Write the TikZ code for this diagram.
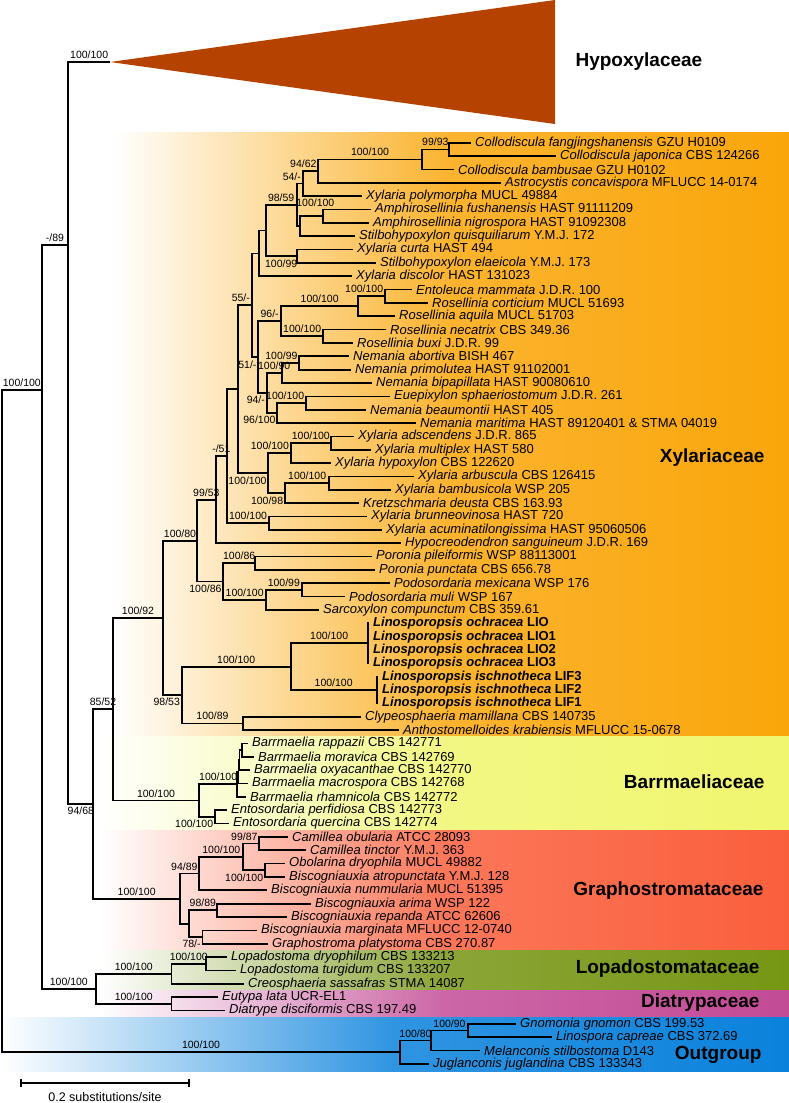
\documentclass[tikz,border=0pt]{standalone}
\usepackage{fontspec}
\setmainfont{Liberation Sans}
\usepackage{tikz}
\usetikzlibrary{calc}
\definecolor{hypc}{RGB}{182,66,0}
\definecolor{xylc}{RGB}{250,166,10}
\definecolor{barc}{RGB}{240,246,110}
\definecolor{grac}{RGB}{250,95,60}
\definecolor{lopc}{RGB}{118,150,20}
\definecolor{diac}{RGB}{195,75,150}
\definecolor{outc}{RGB}{10,130,220}

\begin{document}
\begin{tikzpicture}[
    x=1pt, y=-1pt,
    br/.style={line width=1.7pt},
    tax/.style={anchor=west, font=\fontsize{13}{15}\selectfont, inner xsep=4pt, inner ysep=0pt},
    bs/.style={font=\fontsize{10.5}{12}\selectfont, inner xsep=1pt, inner ysep=2.5pt},
    bsup/.style={bs, pos=.75, above},
    bsdn/.style={bs, pos=.75, below},
    bsupl/.style={bs, pos=1, above left},
    bsdnl/.style={bs, pos=1, below left},
    fam/.style={anchor=east, font=\fontsize{19}{22}\selectfont\bfseries},
    band/.style={left color=white}
]
    \useasboundingbox (0,0) rectangle (789,1103);

    % family bands
    \shade[band, right color=xylc, middle color=xylc!85!white] (113,132) rectangle (789,736.8);
    \shade[band, right color=barc, middle color=barc!85!white] (100,736.8) rectangle (789,830.2);
    \shade[band, right color=grac, middle color=grac!85!white] (100,830.2) rectangle (789,950.4);
    \shade[band, right color=lopc, middle color=lopc!85!white] (100,950.4) rectangle (789,990.4);
    \shade[band, right color=diac, middle color=diac!85!white] (100,990.4) rectangle (789,1017.1);
    \shade[band, right color=outc, middle color=outc!85!white] (0,1017.1) rectangle (789,1071);

    % collapsed Hypoxylaceae
    \coordinate (hyp) at (110,62);
    \fill[hypc] (hyp) -- (555,0) -- (555,124) -- cycle;

    % taxa
    \node[tax] (cfan) at (471,142.7) {\textit{Collodiscula fangjingshanensis} GZU H0109};
    \node[tax] (cjap) at (556,156.05) {\textit{Collodiscula japonica} CBS 124266};
    \node[tax] (cbam) at (454,169.4) {\textit{Collodiscula bambusae} GZU H0102};
    \node[tax] (acon) at (501,182.75) {\textit{Astrocystis concavispora} MFLUCC 14-0174};
    \node[tax] (xpol) at (362,196.1) {\textit{Xylaria polymorpha} MUCL 49884};
    \node[tax] (afus) at (371,209.45) {\textit{Amphirosellinia fushanensis} HAST 91111209};
    \node[tax] (anig) at (369,222.8) {\textit{Amphirosellinia nigrospora} HAST 91092308};
    \node[tax] (squi) at (355,236.15) {\textit{Stilbohypoxylon quisquiliarum} Y.M.J. 172};
    \node[tax] (xcur) at (353,249.5) {\textit{Xylaria curta} HAST 494};
    \node[tax] (sela) at (376,262.85) {\textit{Stilbohypoxylon elaeicola} Y.M.J. 173};
    \node[tax] (xdis) at (352,276.2) {\textit{Xylaria discolor} HAST 131023};
    \node[tax] (emam) at (412,289.55) {\textit{Entoleuca mammata} J.D.R. 100};
    \node[tax] (rcor) at (428,302.9) {\textit{Rosellinia corticium} MUCL 51693};
    \node[tax] (raqu) at (395,316.25) {\textit{Rosellinia aquila} MUCL 51703};
    \node[tax] (rnec) at (386,329.6) {\textit{Rosellinia necatrix} CBS 349.36};
    \node[tax] (rbux) at (353,342.95) {\textit{Rosellinia buxi} J.D.R. 99};
    \node[tax] (nabo) at (349,356.3) {\textit{Nemania abortiva} BISH 467};
    \node[tax] (npri) at (351,369.65) {\textit{Nemania primolutea} HAST 91102001};
    \node[tax] (nbip) at (372,383) {\textit{Nemania bipapillata} HAST 90080610};
    \node[tax] (esph) at (390,396.35) {\textit{Euepixylon sphaeriostomum} J.D.R. 261};
    \node[tax] (nbea) at (366,409.7) {\textit{Nemania beaumontii} HAST 405};
    \node[tax] (nmar) at (416,423.05) {\textit{Nemania maritima} HAST 89120401 \& STMA 04019};
    \node[tax] (xads) at (354,436.4) {\textit{Xylaria adscendens} J.D.R. 865};
    \node[tax] (xmul) at (371,449.75) {\textit{Xylaria multiplex} HAST 580};
    \node[tax] (xhyp) at (331,463.1) {\textit{Xylaria hypoxylon} CBS 122620};
    \node[tax] (xarb) at (414,476.45) {\textit{Xylaria arbuscula} CBS 126415};
    \node[tax] (xbam) at (391,489.8) {\textit{Xylaria bambusicola} WSP 205};
    \node[tax] (kdeu) at (359,503.15) {\textit{Kretzschmaria deusta} CBS 163.93};
    \node[tax] (xbru) at (367,516.5) {\textit{Xylaria brunneovinosa} HAST 720};
    \node[tax] (xacu) at (382,529.85) {\textit{Xylaria acuminatilongissima} HAST 95060506};
    \node[tax] (hsan) at (401,543.2) {\textit{Hypocreodendron sanguineum} J.D.R. 169};
    \node[tax] (ppil) at (372,556.55) {\textit{Poronia pileiformis} WSP 88113001};
    \node[tax] (ppun) at (375,569.9) {\textit{Poronia punctata} CBS 656.78};
    \node[tax] (pmex) at (390,583.25) {\textit{Podosordaria mexicana} WSP 176};
    \node[tax] (pmul) at (345,596.6) {\textit{Podosordaria muli} WSP 167};
    \node[tax] (scom) at (319,609.95) {\textit{Sarcoxylon compunctum} CBS 359.61};
    \node[tax] (lio) at (369,623.3) {\textbf{\textit{Linosporopsis ochracea} LIO}};
    \node[tax] (lioa) at (369,636.65) {\textbf{\textit{Linosporopsis ochracea} LIO1}};
    \node[tax] (liob) at (369,650) {\textbf{\textit{Linosporopsis ochracea} LIO2}};
    \node[tax] (lioc) at (369,663.35) {\textbf{\textit{Linosporopsis ochracea} LIO3}};
    \node[tax] (lifc) at (378,676.7) {\textbf{\textit{Linosporopsis ischnotheca} LIF3}};
    \node[tax] (lifb) at (378,690.05) {\textbf{\textit{Linosporopsis ischnotheca} LIF2}};
    \node[tax] (lifa) at (378,703.4) {\textbf{\textit{Linosporopsis ischnotheca} LIF1}};
    \node[tax] (cmam) at (361,716.75) {\textit{Clypeosphaeria mamillana} CBS 140735};
    \node[tax] (akra) at (399,730.1) {\textit{Anthostomelloides krabiensis} MFLUCC 15-0678};
    \node[tax] (brap) at (248,743.45) {\textit{Barrmaelia rappazii} CBS 142771};
    \node[tax] (bmor) at (254,756.8) {\textit{Barrmaelia moravica} CBS 142769};
    \node[tax] (boxy) at (250,770.15) {\textit{Barrmaelia oxyacanthae} CBS 142770};
    \node[tax] (bmac) at (248,783.5) {\textit{Barrmaelia macrospora} CBS 142768};
    \node[tax] (brha) at (246,796.85) {\textit{Barrmaelia rhamnicola} CBS 142772};
    \node[tax] (eper) at (227,810.2) {\textit{Entosordaria perfidiosa} CBS 142773};
    \node[tax] (eque) at (229,823.55) {\textit{Entosordaria quercina} CBS 142774};
    \node[tax] (cobu) at (288,836.9) {\textit{Camillea obularia} ATCC 28093};
    \node[tax] (ctin) at (306,850.25) {\textit{Camillea tinctor} Y.M.J. 363};
    \node[tax] (odry) at (285,863.6) {\textit{Obolarina dryophila} MUCL 49882};
    \node[tax] (batr) at (285,876.95) {\textit{Biscogniauxia atropunctata} Y.M.J. 128};
    \node[tax] (bnum) at (267,890.3) {\textit{Biscogniauxia nummularia} MUCL 51395};
    \node[tax] (bari) at (311,903.65) {\textit{Biscogniauxia arima} WSP 122};
    \node[tax] (brep) at (287,917) {\textit{Biscogniauxia repanda} ATCC 62606};
    \node[tax] (bmar) at (257,930.35) {\textit{Biscogniauxia marginata} MFLUCC 12-0740};
    \node[tax] (gpla) at (268,943.7) {\textit{Graphostroma platystoma} CBS 270.87};
    \node[tax] (ldry) at (227,957.05) {\textit{Lopadostoma dryophilum} CBS 133213};
    \node[tax] (ltur) at (236,970.4) {\textit{Lopadostoma turgidum} CBS 133207};
    \node[tax] (csas) at (244,983.75) {\textit{Creosphaeria sassafras} STMA 14087};
    \node[tax] (elat) at (218,997.1) {\textit{Eutypa lata} UCR-EL1};
    \node[tax] (ddis) at (225,1010.45) {\textit{Diatrype disciformis} CBS 197.49};
    \node[tax] (ggno) at (516,1023.8) {\textit{Gnomonia gnomon} CBS 199.53};
    \node[tax] (lcap) at (552,1037.15) {\textit{Linospora capreae} CBS 372.69};
    \node[tax] (msti) at (480,1050.5) {\textit{Melanconis stilbostoma} D143};
    \node[tax] (jjug) at (429,1063.85) {\textit{Juglanconis juglandina} CBS 133343};

    % internal nodes
    \coordinate (root) at (2,721.1);
    \coordinate (nA) at (41.7,390);
    \coordinate (nB) at (68.3,245);
    \coordinate (nD) at (93.3,804);
    \coordinate (nE) at (112.7,709.3);
    \coordinate (nF) at (163.3,617.9);
    \coordinate (nH) at (196.7,540.7);
    \coordinate (nI) at (216,499.7);
    \coordinate (nJ) at (226.7,456.2);
    \coordinate (nK) at (237.7,389.2);
    \coordinate (nL) at (251.7,305.3);
    \coordinate (nM) at (259,253.4);
    \coordinate (nM2) at (265.7,230.5);
    \coordinate (n9859) at (296.7,204.9);
    \coordinate (n54) at (302.7,183.6);
    \coordinate (n9462) at (318.3,171.1);
    \coordinate (ncol) at (421.7,159.4);
    \coordinate (n9993) at (449,149.4);
    \coordinate (nams) at (300,226.1);
    \coordinate (namp) at (322.7,216.1);
    \coordinate (nxcs) at (296.7,256.2);
    \coordinate (nN) at (258.3,357.1);
    \coordinate (nros0) at (281,321.2);
    \coordinate (nros1) at (358.3,306.2);
    \coordinate (nros2) at (385,296.2);
    \coordinate (nros3) at (323.3,336.3);
    \coordinate (nnem0) at (266.7,393);
    \coordinate (nnem1) at (281.7,373);
    \coordinate (nnem2) at (299.3,363);
    \coordinate (nnem3) at (277.3,413);
    \coordinate (nnem4) at (306,403);
    \coordinate (nxyl0) at (268.3,473.1);
    \coordinate (nxyl1) at (290.7,453.1);
    \coordinate (nxyl2) at (331,443.1);
    \coordinate (nxyl3) at (285,493.1);
    \coordinate (nxyl4) at (329.3,483.1);
    \coordinate (nxyl5) at (269.3,523.2);
    \coordinate (npor0) at (223.3,581.6);
    \coordinate (npor1) at (255,563.2);
    \coordinate (npor2) at (266,599.9);
    \coordinate (npor3) at (301.7,589.9);
    \coordinate (nlin0) at (181.7,695);
    \coordinate (nlin1) at (290.7,666.7);
    \coordinate (nlio) at (367.7,643.3);
    \coordinate (nlif) at (376.7,690.05);
    \coordinate (ncly) at (243.3,723.4);
    \coordinate (nbar0) at (199.3,800.6);
    \coordinate (nbar1) at (237,784.3);
    \coordinate (nbar2) at (238.5,771.8);
    \coordinate (nbar3) at (239.5,760.1);
    \coordinate (nbar4) at (242,750.1);
    \coordinate (nent) at (215,816.9);
    \coordinate (nG) at (180,898.7);
    \coordinate (ngr1) at (199.3,873.6);
    \coordinate (ngr2) at (243.3,856.9);
    \coordinate (ngr3) at (259.3,843.6);
    \coordinate (ngr4) at (265,870.3);
    \coordinate (ngr5) at (189,923.7);
    \coordinate (ngr6) at (216.7,910.3);
    \coordinate (ngr7) at (202.5,937);
    \coordinate (nC) at (96,988.8);
    \coordinate (nlop0) at (171.5,973.7);
    \coordinate (nlop1) at (206,963.7);
    \coordinate (ndia) at (171.5,1003.8);
    \coordinate (nO) at (400,1052.2);
    \coordinate (nP) at (431,1040.5);
    \coordinate (nQ) at (468,1030.5);

    % backbone
    \draw[br] (root) |- node[bsup] (s01) {100/100} (nA);
    \draw[br] (root) |- node[bsup] (s02) {100/100} (nO);
    \draw[br] (nA) |- node[bsup] (s03) {-/89} (nB);
    \draw[br] (nA) |- node[bsup] (s04) {100/100} (nC);
    \draw[br] (nB) |- node[bsup] (s05) {100/100} (hyp);
    \draw[br] (nB) |- node[bsdn] (s06) {94/68} (nD);
    \draw[br] (nD) |- node[bsup] (s07) {85/52} (nE);
    \draw[br] (nD) |- node[bsup] (s08) {100/100} (nG);
    \draw[br] (nE) |- node[bsup] (s09) {100/92} (nF);
    \draw[br] (nE) |- node[bsup] (s10) {100/100} (nbar0);
    \draw[br] (nF) |- node[bsup] (s11) {100/80} (nH);
    \draw[br] (nF) |- node[bsdnl] (s12) {98/53} (nlin0);
    \draw[br] (nH) |- node[bsup] (s13) {99/53} (nI);
    \draw[br] (nH) |- node[bsdnl] (s14) {100/86} (npor0);
    \draw[br] (nI) |- node[bsup] (s15) {-/51} (nJ);
    \draw[br] (nI) |- (hsan.west);
    \draw[br] (nJ) |- (nK);
    \draw[br] (nJ) |- node[bsup] (s16) {100/100} (nxyl5);
    \draw[br] (nK) |- node[bsupl] (s17) {55/-} (nL);
    \draw[br] (nK) |- node[bsdnl] (s18) {100/100} (nxyl0);
    \draw[br] (nL) |- (nM);
    \draw[br] (nL) |- node[bsdnl] (s19) {51/-} (nN);

    % Xylaria / Collodiscula group
    \draw[br] (nM) |- (nM2);
    \draw[br] (nM) |- (xdis.west);
    \draw[br] (nM2) |- node[bsup] (s20) {98/59} (n9859);
    \draw[br] (nM2) |- node[bsdn] (s21) {100/99} (nxcs);
    \draw[br] (n9859) |- node[bsupl] (s22) {54/-} (n54);
    \draw[br] (n9859) |- (nams);
    \draw[br] (n54) |- node[bsupl] (s23) {94/62} (n9462);
    \draw[br] (n54) |- (xpol.west);
    \draw[br] (n9462) |- node[bsup] (s24) {100/100} (ncol);
    \draw[br] (n9462) |- (acon.west);
    \draw[br] (ncol) |- node[bsup] (s25) {99/93} (n9993);
    \draw[br] (ncol) |- (cbam.west);
    \draw[br] (n9993) |- (cfan.west);
    \draw[br] (n9993) |- (cjap.west);
    \draw[br] (nams) |- node[bsup, yshift=6pt, xshift=4pt] (s26) {100/100} (namp);
    \draw[br] (nams) |- (squi.west);
    \draw[br] (namp) |- (afus.west);
    \draw[br] (namp) |- (anig.west);
    \draw[br] (nxcs) |- (xcur.west);
    \draw[br] (nxcs) |- (sela.west);

    % Rosellinia / Nemania
    \draw[br] (nN) |- node[bsup] (s27) {96/-} (nros0);
    \draw[br] (nN) |- node[bsdnl] (s28) {94/-} (nnem0);
    \draw[br] (nros0) |- node[bsup] (s29) {100/100} (nros1);
    \draw[br] (nros0) |- node[bsup] (s30) {100/100} (nros3);
    \draw[br] (nros1) |- node[bsupl] (s31) {100/100} (nros2);
    \draw[br] (nros1) |- (raqu.west);
    \draw[br] (nros2) |- (emam.west);
    \draw[br] (nros2) |- (rcor.west);
    \draw[br] (nros3) |- (rnec.west);
    \draw[br] (nros3) |- (rbux.west);
    \draw[br] (nnem0) |- node[bsup] (s32) {100/90} (nnem1);
    \draw[br] (nnem0) |- node[bsdnl] (s33) {96/100} (nnem3);
    \draw[br] (nnem1) |- node[bsupl] (s34) {100/99} (nnem2);
    \draw[br] (nnem1) |- (nbip.west);
    \draw[br] (nnem2) |- (nabo.west);
    \draw[br] (nnem2) |- (npri.west);
    \draw[br] (nnem3) |- node[bsupl] (s35) {100/100} (nnem4);
    \draw[br] (nnem3) |- (nmar.west);
    \draw[br] (nnem4) |- (esph.west);
    \draw[br] (nnem4) |- (nbea.west);

    % Xylaria s. str.
    \draw[br] (nxyl0) |- node[bsupl] (s36) {100/100} (nxyl1);
    \draw[br] (nxyl0) |- node[bsdnl] (s37) {100/98} (nxyl3);
    \draw[br] (nxyl1) |- node[bsup] (s38) {100/100} (nxyl2);
    \draw[br] (nxyl1) |- (xhyp.west);
    \draw[br] (nxyl2) |- (xads.west);
    \draw[br] (nxyl2) |- (xmul.west);
    \draw[br] (nxyl3) |- node[bsup] (s39) {100/100} (nxyl4);
    \draw[br] (nxyl3) |- (kdeu.west);
    \draw[br] (nxyl4) |- (xarb.west);
    \draw[br] (nxyl4) |- (xbam.west);
    \draw[br] (nxyl5) |- (xbru.west);
    \draw[br] (nxyl5) |- (xacu.west);

    % Poronia / Podosordaria
    \draw[br] (npor0) |- node[bsup] (s40) {100/86} (npor1);
    \draw[br] (npor0) |- node[bsup] (s41) {100/100} (npor2);
    \draw[br] (npor1) |- (ppil.west);
    \draw[br] (npor1) |- (ppun.west);
    \draw[br] (npor2) |- node[bsup] (s42) {100/99} (npor3);
    \draw[br] (npor2) |- (scom.west);
    \draw[br] (npor3) |- (pmex.west);
    \draw[br] (npor3) |- (pmul.west);

    % Linosporopsis
    \draw[br] (nlin0) |- node[bsup] (s43) {100/100} (nlin1);
    \draw[br] (nlin0) |- node[bsup] (s44) {100/89} (ncly);
    \draw[br] (nlin1) |- node[bsup] (s45) {100/100} (nlio);
    \draw[br] (nlin1) |- node[bsup] (s46) {100/100} (nlif);
    \draw[br] (nlio) |- (lio.west);
    \draw[br] (nlio) |- (lioa.west);
    \draw[br] (nlio) |- (liob.west);
    \draw[br] (nlio) |- (lioc.west);
    \draw[br] (nlif) |- (lifc.west);
    \draw[br] (nlif) |- (lifb.west);
    \draw[br] (nlif) |- (lifa.west);
    \draw[br] (ncly) |- (cmam.west);
    \draw[br] (ncly) |- (akra.west);

    % Barrmaeliaceae
    \draw[br] (nbar0) |- node[bsup] (s47) {100/100} (nbar1);
    \draw[br] (nbar0) |- node[bsdnl] (s48) {100/100} (nent);
    \draw[br] (nbar1) |- (nbar2);
    \draw[br] (nbar1) |- (brha.west);
    \draw[br] (nbar2) |- (nbar3);
    \draw[br] (nbar2) |- (bmac.west);
    \draw[br] (nbar3) |- (nbar4);
    \draw[br] (nbar3) |- (boxy.west);
    \draw[br] (nbar4) |- (brap.west);
    \draw[br] (nbar4) |- (bmor.west);
    \draw[br] (nent) |- (eper.west);
    \draw[br] (nent) |- (eque.west);

    % Graphostromataceae
    \draw[br] (nG) |- node[bsupl] (s49) {94/89} (ngr1);
    \draw[br] (nG) |- (ngr5);
    \draw[br] (ngr1) |- node[bsup] (s50) {100/100} (ngr2);
    \draw[br] (ngr1) |- (bnum.west);
    \draw[br] (ngr2) |- node[bsupl] (s51) {99/87} (ngr3);
    \draw[br] (ngr2) |- node[bsdnl] (s52) {100/100} (ngr4);
    \draw[br] (ngr3) |- (cobu.west);
    \draw[br] (ngr3) |- (ctin.west);
    \draw[br] (ngr4) |- (odry.west);
    \draw[br] (ngr4) |- (batr.west);
    \draw[br] (ngr5) |- node[bsup] (s53) {98/89} (ngr6);
    \draw[br] (ngr5) |- node[bsdnl] (s54) {78/-} (ngr7);
    \draw[br] (ngr6) |- (bari.west);
    \draw[br] (ngr6) |- (brep.west);
    \draw[br] (ngr7) |- (bmar.west);
    \draw[br] (ngr7) |- (gpla.west);

    % Lopadostomataceae, Diatrypaceae
    \draw[br] (nC) |- node[bsup] (s55) {100/100} (nlop0);
    \draw[br] (nC) |- node[bsup] (s56) {100/100} (ndia);
    \draw[br] (nlop0) |- node[bsup] (s57) {100/100} (nlop1);
    \draw[br] (nlop0) |- (csas.west);
    \draw[br] (nlop1) |- (ldry.west);
    \draw[br] (nlop1) |- (ltur.west);
    \draw[br] (ndia) |- (elat.west);
    \draw[br] (ndia) |- (ddis.west);

    % outgroup
    \draw[br] (nO) |- node[bsup] (s58) {100/80} (nP);
    \draw[br] (nO) |- (jjug.west);
    \draw[br] (nP) |- node[bsup] (s59) {100/90} (nQ);
    \draw[br] (nP) |- (msti.west);
    \draw[br] (nQ) |- (ggno.west);
    \draw[br] (nQ) |- (lcap.west);

    % family names
    \node[fam, anchor=west] (hypl) at (572,62) {Hypoxylaceae};
    \node[fam] (xyll) at (768,458) {Xylariaceae};
    \node[fam] (barl) at (768,782) {Barrmaeliaceae};
    \node[fam] (gral) at (767,891) {Graphostromataceae};
    \node[fam] (lopl) at (763,969) {Lopadostomataceae};
    \node[fam] (dial) at (763,1003) {Diatrypaceae};
    \node[fam] (outl) at (765,1055) {Outgroup};

    % scale bar
    \coordinate (sb0) at (21,1083);
    \coordinate (sb1) at (189,1083);
    \draw[line width=1.3pt] (sb0) -- (sb1);
    \draw[line width=1.3pt] ([yshift=4pt]sb0) -- ([yshift=-4pt]sb0);
    \draw[line width=1.3pt] ([yshift=4pt]sb1) -- ([yshift=-4pt]sb1);
    \node[font=\fontsize{12.5}{14}\selectfont] (sbl) at (105,1097) {0.2 substitutions/site};
\end{tikzpicture}
\end{document}
